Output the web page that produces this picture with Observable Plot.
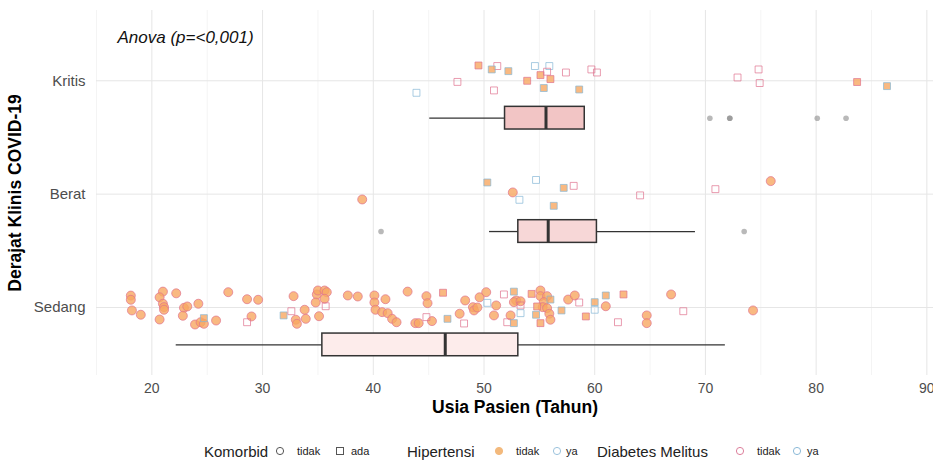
<!DOCTYPE html>
<html><head><meta charset="utf-8">
<script src="https://cdn.jsdelivr.net/npm/d3@7"></script>
<script src="https://cdn.jsdelivr.net/npm/@observablehq/plot@0.6"></script>
<style>
body{margin:0;background:#fff;font-family:"Liberation Sans",Arial,Helvetica,sans-serif;overflow:hidden}
#legend{position:relative;height:22px;width:933px}
#legend .it{position:absolute;top:50%;transform:translateY(-50%);white-space:nowrap;line-height:1}
#legend svg{display:block}
</style></head><body>
<div id="chart"></div>
<div id="legend"></div>
<script>
// ---- data ----
const levels = ["Sedang", "Berat", "Kritis"];           // y positions 1,2,3
const xTicks = [20, 30, 40, 50, 60, 70, 80, 90];
const xMinorTicks = [15, 25, 35, 45, 55, 65, 75, 85];
// point types: c = komorbid tidak; sr = ada, HT tidak, DM tidak; sg = ada, HT tidak, DM ya;
// sp = ada, HT ya, DM tidak; sb = ada, HT ya, DM ya
const kritisPoints = [
  [43.9,-0.106,"sb"],[47.6,-0.01,"sp"],[49.5,0.135,"sr"],[51.2,0.13,"sp"],[50.7,0.10,"sg"],
  [50.9,-0.085,"sp"],[52.2,0.085,"sg"],[54.6,0.13,"sb"],[55.9,0.13,"sb"],[53.9,0,"sr"],
  [55.1,0.05,"sr"],[55.7,0.08,"sp"],[56.0,0.015,"sr"],[55.4,-0.064,"sg"],[57.4,0.073,"sp"],
  [58.6,-0.077,"sg"],[59.7,0.10,"sp"],[60.2,0.073,"sp"],[72.9,0.029,"sp"],[74.8,0.10,"sp"],
  [74.9,-0.02,"sp"],[83.7,-0.011,"sr"],[86.4,-0.047,"sg"]
];
const beratPoints = [
  [39.0,-0.047,"c"],[50.3,0.103,"sg"],[52.6,0.015,"c"],[54.7,0.125,"sb"],[53.2,-0.05,"sb"],
  [57.2,0.055,"sg"],[58.1,0.073,"sp"],[56.3,-0.103,"sg"],[64.1,-0.011,"sp"],[70.9,0.044,"sp"],
  [75.9,0.115,"c"]
];
const sedangPoints = [
  [18.1,0.105,"c"],[18.1,0.068,"c"],[18.2,-0.026,"c"],[19.0,-0.064,"c"],[21.0,0.14,"c"],
  [20.7,0.09,"c"],[21.0,0.033,"c"],[21.1,0.003,"c"],[21.1,-0.02,"c"],[20.7,-0.106,"c"],
  [22.2,0.125,"c"],[22.9,-0.003,"c"],[23.2,0.009,"c"],[22.8,-0.073,"c"],[24.2,0.033,"c"],
  [24.7,-0.094,"sg"],[23.9,-0.15,"c"],[24.4,-0.13,"c"],[24.7,-0.144,"c"],[25.8,-0.115,"c"],
  [26.9,0.135,"c"],[28.6,0.073,"c"],[29.6,0.068,"c"],[29.0,-0.079,"c"],[28.6,-0.13,"sp"],
  [31.9,-0.07,"sg"],[32.6,-0.033,"sp"],[32.8,0.10,"c"],[33.8,-0.02,"c"],[33.0,-0.108,"c"],
  [33.1,-0.144,"c"],[33.9,-0.10,"c"],[34.9,0.115,"c"],[35.0,0.15,"c"],[35.6,0.15,"c"],
  [35.8,0.135,"c"],[34.8,0.044,"c"],[35.6,0.077,"c"],[35.7,0.011,"sp"],[35.1,-0.077,"c"],
  [37.7,0.106,"c"],[38.6,0.097,"c"],[40.1,0.106,"c"],[40.1,0.044,"c"],[41.1,0.073,"c"],
  [40.2,-0.02,"c"],[40.8,-0.041,"c"],[41.3,-0.05,"c"],[41.7,-0.10,"c"],[42.1,-0.13,"c"],
  [43.1,0.14,"c"],[44.8,0.10,"c"],[44.9,0.038,"c"],[46.3,0.13,"sr"],[44.8,-0.085,"sp"],
  [43.8,-0.138,"c"],[44.1,-0.138,"c"],[45.3,-0.12,"c"],[46.7,-0.10,"sg"],[48.2,-0.141,"sp"],
  [47.8,-0.055,"c"],[48.3,0.062,"c"],[49.0,0.003,"c"],[49.1,-0.026,"c"],[49.4,0.0,"c"],
  [49.6,0.09,"c"],[50.2,0.135,"c"],[50.9,-0.07,"c"],[51.1,0.018,"c"],[50.3,0.041,"sb"],
  [51.8,0.115,"sp"],[52.7,0.14,"sg"],[52.9,0.062,"c"],[52.7,0.047,"c"],[53.3,0.055,"c"],
  [53.3,0.018,"sp"],[53.3,-0.05,"sb"],[52.4,-0.07,"c"],[52.1,-0.13,"sp"],[52.7,-0.138,"sg"],
  [54.3,0.12,"sr"],[55.1,0.15,"c"],[55.1,0.10,"c"],[55.7,0.10,"c"],[56.0,0.07,"sg"],
  [55.4,0.047,"c"],[54.8,0.009,"sr"],[55.3,0.003,"c"],[55.7,-0.006,"c"],[55.9,-0.055,"c"],
  [54.7,-0.064,"sg"],[56.0,-0.108,"c"],[55.1,-0.138,"sr"],[57.0,-0.026,"sg"],[57.6,0.07,"c"],
  [58.2,0.106,"c"],[58.6,0.044,"sp"],[59.2,-0.079,"sr"],[60.0,0.047,"sg"],[60.0,-0.02,"sb"],
  [61.0,0.011,"c"],[61.0,0.106,"sg"],[62.6,0.115,"sr"],[62.1,-0.13,"sp"],[66.9,0.115,"c"],
  [64.7,-0.07,"c"],[64.7,-0.138,"c"],[68.0,-0.033,"sp"],[74.3,-0.026,"c"]
];
const outlierLevel = ["Kritis","Kritis","Kritis","Kritis","Kritis","Berat","Berat"];
const outlierAge   = [70.4, 72.2, 72.2, 80.1, 82.7, 40.7, 73.5];
const boxLevel = ["Kritis", "Berat", "Sedang"];
const boxLow   = [45.1, 50.5, 22.2];
const boxQ1    = [51.9, 53.1, 35.4];
const boxMed   = [55.6, 55.8, 46.5];
const boxQ3    = [59.1, 60.2, 53.1];
const boxHigh  = [59.1, 69.1, 71.8];
const boxFill  = ["#f2c5c5", "#f7d7d7", "#fdeceb"];

// ---- build tables ----
const typeInfo = {
  c:  {kom:"tidak", ht:"tidak", dm:"tidak"},
  sr: {kom:"ada",   ht:"tidak", dm:"tidak"},
  sg: {kom:"ada",   ht:"tidak", dm:"ya"},
  sp: {kom:"ada",   ht:"ya",    dm:"tidak"},
  sb: {kom:"ada",   ht:"ya",    dm:"ya"}
};
const lvl = name => levels.indexOf(name) + 1;
const points = [];
[["Kritis", kritisPoints], ["Berat", beratPoints], ["Sedang", sedangPoints]].forEach(([name, arr]) => {
  arr.forEach(([age, jit, t]) => points.push({level: name, age, jit, ...typeInfo[t]}));
});
const outliers = outlierAge.map((a, i) => ({age: a, level: outlierLevel[i]}));
const boxes = boxLevel.map((l, i) => ({level: l, lo: boxLow[i], q1: boxQ1[i], med: boxMed[i], q3: boxQ3[i], hi: boxHigh[i], fill: boxFill[i]}));

const BOX_OFF = 0.33, BOX_H = 0.1;
const htFill = {tidak: "#f8a862", ya: "none"};
const dmStroke = {tidak: "#e0728f", ya: "#86b6d6"};

const plot = Plot.plot({
  width: 933, height: 440,
  marginLeft: 96, marginRight: 0, marginTop: 10, marginBottom: 65,
  style: {fontFamily: '"Liberation Sans", Arial, Helvetica, sans-serif', background: "#fff"},
  x: {domain: [15, 90.6]},
  y: {domain: [0.4, 3.62]},
  r: {type: "identity"},
  color: {type: "identity"},
  marks: [
    Plot.gridX(xMinorTicks, {stroke: "#f1f1f1", strokeOpacity: 1, strokeWidth: 0.8}),
    Plot.gridX(xTicks, {stroke: "#e6e6e6", strokeOpacity: 1, strokeWidth: 1}),
    Plot.gridY([1, 2, 3], {stroke: "#e6e6e6", strokeOpacity: 1, strokeWidth: 1}),
    Plot.axisX(xTicks, {tickSize: 0, tickPadding: 8, fontSize: 14, fill: "#4d4d4d", label: null}),
    Plot.axisY([1, 2, 3], {tickSize: 0, tickPadding: 11, fontSize: 15, fill: "#4d4d4d", label: null,
      tickFormat: d => levels[d - 1]}),
    // boxplots
    Plot.ruleY(boxes, {y: d => lvl(d.level) - BOX_OFF, x1: "lo", x2: "q1", stroke: "#333", strokeWidth: 1.3}),
    Plot.ruleY(boxes, {y: d => lvl(d.level) - BOX_OFF, x1: "q3", x2: "hi", stroke: "#333", strokeWidth: 1.3}),
    Plot.rect(boxes, {x1: "q1", x2: "q3", y1: d => lvl(d.level) - BOX_OFF - BOX_H, y2: d => lvl(d.level) - BOX_OFF + BOX_H,
      fill: "fill", stroke: "#333", strokeWidth: 1.5}),
    Plot.ruleX(boxes, {x: "med", y1: d => lvl(d.level) - BOX_OFF - BOX_H, y2: d => lvl(d.level) - BOX_OFF + BOX_H,
      stroke: "#333", strokeWidth: 3}),
    Plot.dot(outliers, {x: "age", y: d => lvl(d.level) - BOX_OFF, r: 2.8, fill: "#8a8a8a", fillOpacity: 0.6, stroke: "none"}),
    // jittered points
    Plot.dot(points, {
      x: "age", y: d => lvl(d.level) + d.jit,
      symbol: d => d.kom === "ada" ? "square" : "circle",
      r: d => d.kom === "ada" ? 3.9 : 4.5,
      fill: d => htFill[d.ht], fillOpacity: 0.8,
      stroke: d => dmStroke[d.dm], strokeOpacity: 0.7, strokeWidth: 1
    }),
    // titles
    Plot.text(["Anova (p=<0,001)"], {frameAnchor: "top-left", dx: 21, dy: 20, textAnchor: "start",
      fontSize: 17, fontStyle: "italic", fill: "#111"}),
    Plot.text(["Usia Pasien (Tahun)"], {frameAnchor: "bottom", dy: 37, fontSize: 17.5, fontWeight: "bold", fill: "#000"}),
    Plot.text(["Derajat Klinis COVID-19"], {frameAnchor: "left", dx: -81, rotate: -90, textAnchor: "middle",
      fontSize: 17.5, fontWeight: "bold", fill: "#000"})
  ]
});
document.getElementById("chart").appendChild(plot);

// ---- legend ----
const legend = document.getElementById("legend");
const sym = (shape, fill, stroke) => {
  const s = shape === "circle"
    ? `<circle cx="5" cy="5" r="3.6" fill="${fill}" stroke="${stroke}" stroke-width="1"/>`
    : `<rect x="1.5" y="1.5" width="7" height="7" fill="${fill}" stroke="${stroke}" stroke-width="1"/>`;
  return `<svg width="10" height="10">${s}</svg>`;
};
const legendItems = [
  [204, "Komorbid", "title"],
  [275, sym("circle", "none", "#555"), "sym"],
  [297, "tidak", "lab"],
  [335, sym("square", "none", "#555"), "sym"],
  [351, "ada", "lab"],
  [407, "Hipertensi", "title"],
  [494, sym("circle", "#f3b97c", "#f3b97c"), "sym"],
  [516, "tidak", "lab"],
  [552, sym("circle", "none", "#9cc3dd"), "sym"],
  [566, "ya", "lab"],
  [597, "Diabetes Melitus", "title"],
  [735, sym("circle", "none", "#dd7f9c"), "sym"],
  [757, "tidak", "lab"],
  [792, sym("circle", "none", "#8cbad8"), "sym"],
  [807, "ya", "lab"]
];
legendItems.forEach(([x, html, kind]) => {
  const el = document.createElement("div");
  el.className = "it";
  el.style.left = x + "px";
  if (kind === "title") { el.style.fontSize = "15px"; el.style.color = "#222"; }
  if (kind === "lab") { el.style.fontSize = "11px"; el.style.color = "#222"; }
  el.innerHTML = html;
  legend.appendChild(el);
});
</script>
</body></html>
